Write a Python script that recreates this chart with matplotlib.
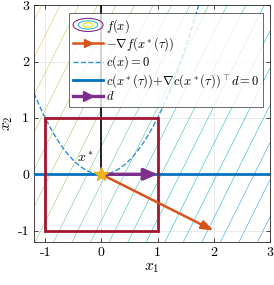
import numpy as np
import matplotlib
matplotlib.use("Agg")
import matplotlib.pyplot as plt
from matplotlib.colors import LinearSegmentedColormap
from matplotlib.legend_handler import HandlerBase
from matplotlib.patches import Ellipse, Rectangle
from matplotlib.lines import Line2D

plt.rcParams['mathtext.fontset'] = 'cm'
plt.rcParams['font.family'] = 'cmr10'
plt.rcParams['axes.formatter.use_mathtext'] = True

# objective f(x) = -2 x1 + x2, constraint c(x) = x1^2 - x2
grad_f = [-2.0, 1.0]
levels = np.arange(-6.76, 5.5, 0.66)
x_star = [0.0, 0.0]
d = [1.0, 0.0]
box_lo, box_hi = [-1.0, -1.0], [1.0, 1.0]
ticks = [-1, 0, 1, 2, 3]
tick_labels = ['-1', '0', '1', '2', '3']
lims = [-1.2, 3.0]

parula = LinearSegmentedColormap.from_list('parula', [
    (0.2422, 0.1504, 0.6603), (0.2810, 0.3228, 0.9579), (0.1540, 0.5902, 0.9218),
    (0.0297, 0.7082, 0.8163), (0.1540, 0.7578, 0.6646), (0.4420, 0.7481, 0.5034),
    (0.7525, 0.7381, 0.3365), (0.9929, 0.7456, 0.2342), (0.9763, 0.9831, 0.0538)])


class HandlerContour(HandlerBase):
    def create_artists(self, legend, orig_handle, xdescent, ydescent, width, height, fontsize, trans):
        cx = width / 2 - xdescent
        cy = height / 2 - ydescent
        out = []
        for sw, sh, c in [(1.0, 1.5, '#7E2F8E'), (0.65, 0.95, '#30C0D0'), (0.35, 0.5, '#E8E020')]:
            e = Ellipse((cx, cy), width * sw, height * sh, fill=False, edgecolor=c, lw=0.8, transform=trans)
            out.append(e)
        return out


fig = plt.figure(figsize=(2.74, 2.85), dpi=100)
ax = fig.add_axes([0.124, 0.151, 0.861, 0.831])

g = np.linspace(lims[0], lims[1], 200)
X1, X2 = np.meshgrid(g, g)
F = grad_f[0] * X1 + grad_f[1] * X2
ax.contour(X1, X2, F, levels=levels, cmap=parula, vmin=-10.6, vmax=7.4, linewidths=0.5,
           alpha=0.75, zorder=1)

xp = np.linspace(lims[0], np.sqrt(lims[1]), 200)
ax.plot(xp, xp ** 2, '--', color='#2F8FD8', lw=1.0, zorder=2)
ax.axhline(0, color='#0072BD', lw=2.0, zorder=3)
ax.plot([x_star[0], x_star[0]], [x_star[1], lims[1]], color='k', lw=1.2, zorder=3)
ax.add_patch(Rectangle(box_lo, box_hi[0] - box_lo[0], box_hi[1] - box_lo[1], fill=False,
                       edgecolor='#A2142F', lw=2.0, zorder=4))

ax.annotate('', xy=(x_star[0] - grad_f[0], x_star[1] - grad_f[1]), xytext=x_star,
            arrowprops=dict(arrowstyle='-|>,head_length=0.7,head_width=0.25', color='#D95319', lw=1.8,
                            shrinkA=0, shrinkB=0), zorder=5)
ax.annotate('', xy=(x_star[0] + d[0], x_star[1] + d[1]), xytext=x_star,
            arrowprops=dict(arrowstyle='-|>,head_length=0.8,head_width=0.35', color='#7E2F8E', lw=2.4,
                            shrinkA=0, shrinkB=0), zorder=6)
ax.plot(*x_star, marker='*', color='#EDB120', ms=10, zorder=7)
ax.text(-0.29, 0.29, r'$x^*$', fontsize=10, ha='center', va='center', zorder=7)

ax.set_xlim(lims)
ax.set_ylim(lims)
ax.set_xticks(ticks)
ax.set_yticks(ticks)
ax.set_xticklabels(tick_labels, fontsize=10)
ax.set_yticklabels(tick_labels, fontsize=10)
ax.tick_params(direction='in', top=True, right=True, length=3, width=0.6, color='#262626')
ax.grid(True, color='#e6e6e6', lw=0.6, zorder=0)
ax.set_axisbelow(True)
for s in ax.spines.values():
    s.set_color('#262626')
    s.set_linewidth(0.6)
ax.set_xlabel(r'$x_1$', fontsize=11, labelpad=2)
ax.set_ylabel(r'$x_2$', fontsize=11, labelpad=2)

handles = [
    Rectangle((0, 0), 1, 1),
    Line2D([], [], color='#D95319', lw=1.8, marker='>', markevery=[1], ms=6),
    Line2D([], [], color='#2F8FD8', lw=1.0, ls='--'),
    Line2D([], [], color='#0072BD', lw=2.0),
    Line2D([], [], color='#7E2F8E', lw=2.4, marker='>', markevery=[1], ms=7),
]
labels = [r'$f(x)$', r'$-\nabla f(x^*(\tau))$', r'$c(x)=0$',
          r'$c(x^*(\tau))\!+\!\nabla c(x^*(\tau))^\top d=0$', r'$d$']
leg = ax.legend(handles, labels, handler_map={Rectangle: HandlerContour()},
                loc='upper right', bbox_to_anchor=(0.97, 0.966), borderaxespad=0, fontsize=9,
                handlelength=2.4, handletextpad=0.2, labelspacing=0.05, borderpad=0.3,
                fancybox=False, framealpha=0.8, edgecolor='#262626')
leg.get_frame().set_linewidth(0.6)

fig.savefig('out.png', dpi=100)
